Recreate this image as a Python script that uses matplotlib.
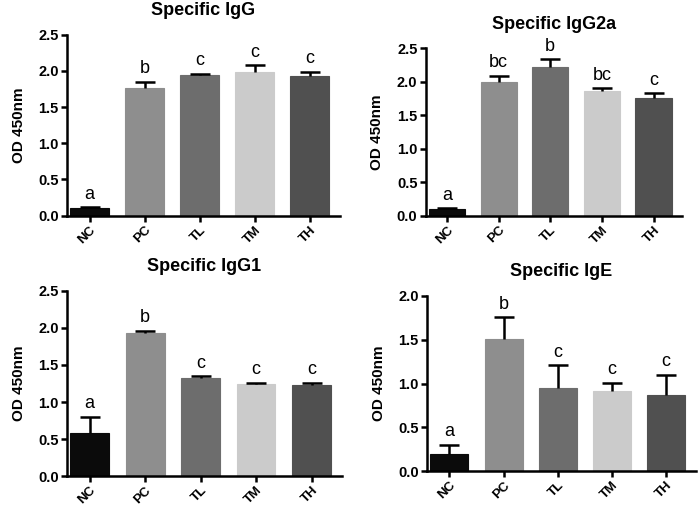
import numpy as np
import matplotlib
matplotlib.use("Agg")
import matplotlib.pyplot as plt

plt.rcParams['font.family'] = ['Liberation Sans', 'DejaVu Sans']

groups = ['NC', 'PC', 'TL', 'TM', 'TH']
colors = ['#0b0b0b', '#8e8e8e', '#6d6d6d', '#cbcbcb', '#505050']

igg_mean = [0.11, 1.76, 1.94, 1.99, 1.93]
igg_err = [0.01, 0.09, 0.02, 0.09, 0.06]
igg_letters = ['a', 'b', 'c', 'c', 'c']

igg2a_mean = [0.10, 1.99, 2.21, 1.86, 1.75]
igg2a_err = [0.02, 0.10, 0.12, 0.05, 0.08]
igg2a_letters = ['a', 'bc', 'b', 'bc', 'c']

igg1_mean = [0.58, 1.93, 1.33, 1.24, 1.23]
igg1_err = [0.22, 0.03, 0.02, 0.02, 0.03]
igg1_letters = ['a', 'b', 'c', 'c', 'c']

ige_mean = [0.19, 1.51, 0.95, 0.91, 0.87]
ige_err = [0.11, 0.25, 0.26, 0.10, 0.23]
ige_letters = ['a', 'b', 'c', 'c', 'c']

fig = plt.figure(figsize=(6.98, 5.11), dpi=100)

panels = [
    ([0.096, 0.578, 0.391, 0.354], 'Specific IgG', igg_mean, igg_err, igg_letters, 2.5, 0.06),
    ([0.610, 0.578, 0.367, 0.328], 'Specific IgG2a', igg2a_mean, igg2a_err, igg2a_letters, 2.5, 0.06),
    ([0.096, 0.068, 0.394, 0.363], 'Specific IgG1', igg1_mean, igg1_err, igg1_letters, 2.5, 0.06),
    ([0.612, 0.078, 0.385, 0.343], 'Specific IgE', ige_mean, ige_err, ige_letters, 2.0, 0.05),
]

for rect, title, mean, err, letters, ymax, pad in panels:
    ax = fig.add_axes(rect)
    x = np.arange(len(groups))
    ax.bar(x, mean, width=0.7, color=colors, edgecolor=colors, linewidth=0.8, zorder=2)
    # upper error bars only
    eb = ax.errorbar(x, mean, yerr=[np.zeros(len(mean)), err], fmt='none',
                     ecolor='black', elinewidth=1.8, capsize=7, capthick=1.8, zorder=3)
    eb[1][0].set_visible(False)
    for xi, m, e, lab in zip(x, mean, err, letters):
        ax.text(xi, m + e + pad, lab, ha='center', va='bottom', fontsize=13)
    ax.set_xlim(-0.41, 4.55)
    ax.set_ylim(0, ymax)
    ticks = np.arange(0, ymax + 0.01, 0.5)
    ax.set_yticks(ticks)
    ax.set_yticklabels(['%.1f' % v for v in ticks], fontsize=10.5, fontweight='bold')
    ax.set_xticks(x)
    ax.set_xticklabels(groups, rotation=45, ha='right', rotation_mode='anchor',
                       fontsize=9.5, fontweight='bold')
    ax.spines['top'].set_visible(False)
    ax.spines['right'].set_visible(False)
    ax.spines['left'].set_linewidth(1.8)
    ax.spines['bottom'].set_linewidth(1.8)
    ax.tick_params(axis='both', width=1.8, length=4.5, direction='out', pad=1.5)
    ax.set_ylabel('OD 450nm', fontsize=11, fontweight='bold', labelpad=9)
    ax.set_title(title, fontsize=13, fontweight='bold', pad=14)

fig.savefig('out.png', dpi=100)
